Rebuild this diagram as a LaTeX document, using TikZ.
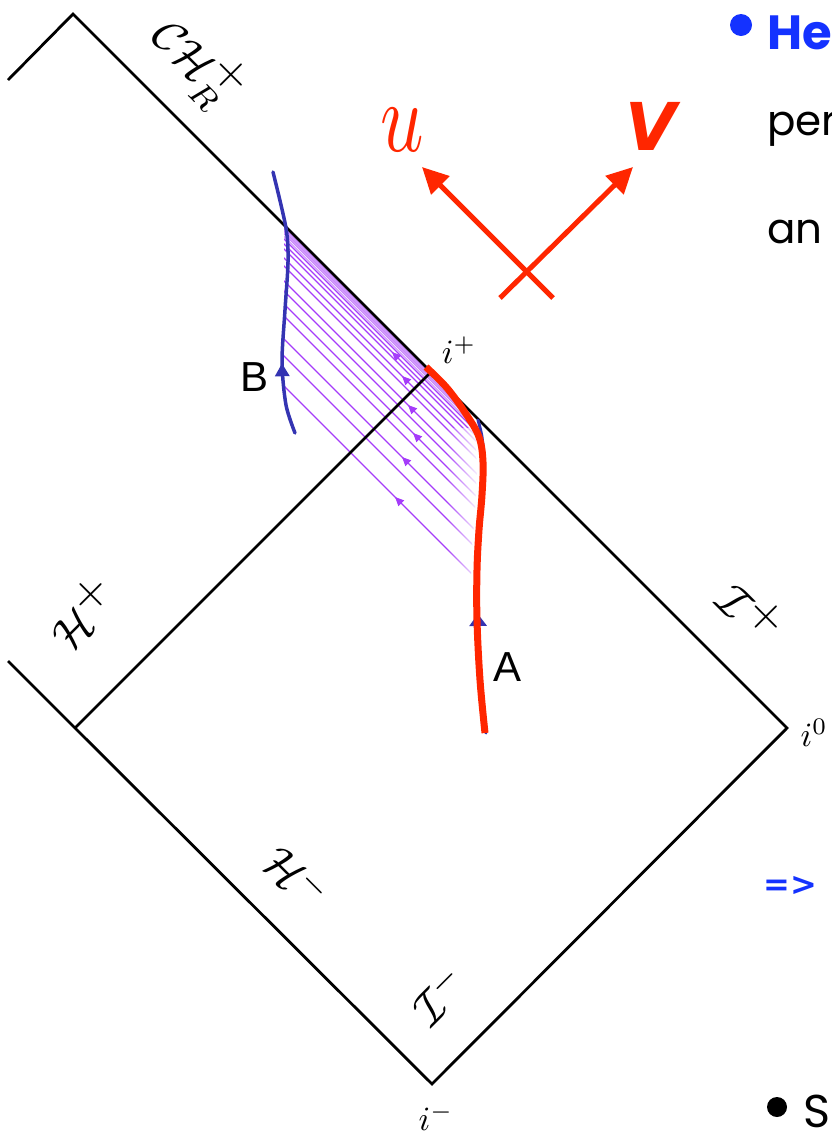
\documentclass[tikz,border=0pt]{standalone}
\usepackage{fontspec}
\newfontfamily\slidefont{Poppins}
\newfontfamily\labfont{Liberation Sans}
\newfontfamily\vfont{DejaVu Sans}
\usetikzlibrary{arrows.meta,decorations.markings,fadings}
\definecolor{redc}{RGB}{255,38,0}
\definecolor{bluec}{RGB}{52,52,178}
\definecolor{purp}{RGB}{165,60,250}
\definecolor{slideblue}{RGB}{20,50,255}
\newcommand{\bigplus}{{\textstyle\mathbf{+}}}
\tikzset{
  frame/.style={line width=2.8pt, black, line join=miter},
  wl/.style={bluec, line width=3.5pt, line cap=round},
  ray/.style={purp, line width=1.2pt},
  rayarrow/.style={purp, line width=1.2pt, -{Triangle[length=9pt,width=8pt]}},
  nullarrow/.style={redc, line width=5pt, -{Triangle[length=26pt,width=25pt]}},
  lab/.style={inner sep=0pt},
  mlab/.style={inner sep=0pt, scale=4.6},
  ilab/.style={inner sep=0pt, scale=3.4},
}
\begin{document}
\begin{tikzpicture}[x=1pt,y=-1pt]
\useasboundingbox (0,0) rectangle (831,1136);

% purple null rays between the two worldlines
\begin{scope}
  \clip (284,226) -- (455,396) -- (468,414) -- (476,440) -- (477,470) -- (475,510) -- (472,550) -- (470,600) -- (284,600) -- cycle;
  \foreach \d in {1.5,3,4.5,6,7.5,9,11.5} {
    \draw[ray, line width=0.9pt, opacity=0.6] (280,{221+\d}) -- (490,{431+\d});
  }
  \foreach \d in {14,19,24,33,41,56,66,79,91,114,131,161} {
    \draw[ray] (280,{221+\d}) -- (490,{431+\d});
  }
\end{scope}
% rays fade out just before worldline A
\fill[white, path fading=west] (446,428) -- (480,428) -- (480,600) -- (446,600) -- cycle;

% Penrose diagram frame
\draw[frame] (8,80) -- (73,14) -- (787,728) -- (432,1084) -- (75,728) -- (8,661);
\draw[frame] (75,728) -- (431,372);

% arrowheads on the rays
\foreach \x/\d in {392/19, 402/33, 408/56, 413/79, 402/114, 395/161} {
  \draw[rayarrow] ({\x+5},{229+\d+\x-288+5}) -- (\x,{229+\d+\x-288});
}

% worldline B
\draw[wl, postaction={decorate}, decoration={markings, mark=at position 0.27 with {\arrow{Triangle[length=13pt,width=14pt]}}}]
  plot[smooth] coordinates {(295,433) (286,405) (282,362) (285,310) (288,262) (286,228) (273,172)};

% worldline A (under the red curve)
\draw[wl, line width=3pt, postaction={decorate}, decoration={markings, mark=at position 0.38 with {\arrow{Triangle[length=12pt,width=17pt]}}}]
  plot[smooth] coordinates {(486,733) (481,680) (478,620) (478,570) (480,530) (483,495) (484,462) (482,437) (478,420)};

% red curve
\draw[redc, line width=7pt] plot[smooth, tension=0.6] coordinates {(485,733) (480,680) (477,620) (477,570) (479,530) (482,495) (483,462) (479,437) (466,414) (447,388) (426,367)};

% u, V null directions
\draw[nullarrow] (553,298) -- (422,167);
\draw[nullarrow] (500,298) -- (633,167);
\node[lab, text=redc, xscale=7.6, yscale=10] (ulab) at (402,130) {$u$};
\node[lab, text=redc, font=\vfont\bfseries\itshape\fontsize{66}{66}\selectfont] (vlab) at (651,126) {V};

% worldline labels
\node[lab, font=\labfont\fontsize{42}{42}\selectfont] (blab) at (255,377) {B};
\node[lab, font=\labfont\fontsize{42}{42}\selectfont] (alab) at (508,667) {A};

% boundary labels
\node[mlab, rotate=-45] (chr) at (198,63) {$\mathcal{CH}_R^{\bigplus}$};
\node[mlab, rotate=45] (hp) at (82,612) {$\mathcal{H}^{\bigplus}$};
\node[mlab, rotate=-45] (ip) at (752,612) {$\mathcal{I}^{\bigplus}$};
\node[mlab, rotate=-45] (hm) at (297,877) {$\mathcal{H}^{-}$};
\node[mlab, rotate=45] (im) at (440,995) {$\mathcal{I}^{-}$};
\node[ilab] (iplus) at (459,350) {$i^+$};
\node[ilab, anchor=west] (izero) at (800,733) {$i^0$};
\node[ilab] (iminus) at (436,1117) {$i^-$};

% slide text cut by the right edge
\fill[slideblue] (741,25) circle (11pt);
\node[lab, anchor=base west, text=slideblue, font=\slidefont\bfseries\fontsize{48}{48}\selectfont] (he) at (767,49) {He};
\node[lab, anchor=base west, font=\slidefont\fontsize{42}{42}\selectfont] (per) at (767,135) {per};
\node[lab, anchor=base west, font=\slidefont\fontsize{42}{42}\selectfont] (an) at (767,243) {an};
\node[lab, text=slideblue, font=\vfont\bfseries\fontsize{32}{32}\selectfont] (impl) at (790,886) {=>};
\fill[black] (777,1107) circle (10pt);
\node[lab, anchor=base west, font=\slidefont\fontsize{46}{46}\selectfont] (s) at (803,1127) {S};
\end{tikzpicture}
\end{document}
